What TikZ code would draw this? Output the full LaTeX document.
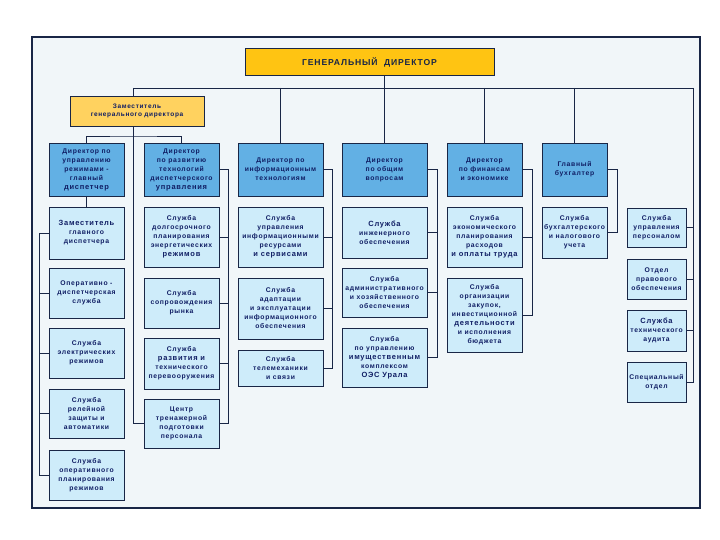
\documentclass[tikz,border=0pt]{standalone}
\usepackage{fontspec}
\setmainfont{Liberation Sans}
\newfontfamily\bxf[LetterSpace=10]{Liberation Sans}
\pgfdeclarelayer{framelayer}
\pgfdeclarelayer{lineslayer}
\pgfsetlayers{framelayer,lineslayer,main}
\definecolor{navy}{RGB}{25,38,70}
\definecolor{txt}{RGB}{16,30,100}
\definecolor{dirc}{RGB}{98,176,228}
\definecolor{svc}{RGB}{206,236,250}
\definecolor{gold}{RGB}{255,196,18}
\definecolor{goldl}{RGB}{255,210,95}
\definecolor{bgc}{RGB}{241,246,249}
\newcommand\bg[1]{{\fontsize{7.5}{9}\selectfont #1}}
\newcommand\bx[7]{\node[#1, minimum width={(#4-#3)*1pt}, minimum height={(#6-#5)*1pt}] (#2) at ({(#3+#4)/2},{(#5+#6)/2}) {#7};}
\tikzset{
  obox/.style={draw=navy, line width=0.8pt, inner sep=1pt, align=center, text=txt,
    font=\bxf\bfseries\fontsize{6.8}{9}\selectfont},
  dirbox/.style={obox, fill=dirc},
  svcbox/.style={obox, fill=svc},
  gdbox/.style={obox, fill=gold, line width=1pt, text=navy, font=\bxf\bfseries\fontsize{8.6}{10}\selectfont},
  depbox/.style={obox, fill=goldl, font=\bxf\bfseries\fontsize{6.5}{8}\selectfont},
  conn/.style={draw=navy, line width=0.7pt}
}
\begin{document}
\begin{tikzpicture}[x=1pt,y=-1pt]
\useasboundingbox (0,0) rectangle (720,540);
\begin{pgfonlayer}{framelayer}
\fill[white] (0,0) rectangle (720,540);
\draw[navy, line width=2.5pt, fill=bgc] (32,37) rectangle (700,508);
\end{pgfonlayer}

% top
\bx{gdbox}{gd}{245}{494}{49}{76}{ГЕНЕРАЛЬНЫЙ\ \ ДИРЕКТОР}
\bx{depbox}{dep}{70}{204}{96}{126}{Заместитель\\генерального директора}

% column 1
\bx{dirbox}{d1}{49}{124}{143}{196}{Директор по\\управлению\\режимами -\\главный\\\bg{диспетчер}}
\bx{svcbox}{s11}{49}{124}{207}{259}{\bg{Заместитель}\\главного\\диспетчера}
\bx{svcbox}{s12}{49}{124}{268}{318}{Оперативно -\\диспетчерская\\служба}
\bx{svcbox}{s13}{49}{124}{328}{378}{Служба\\электрических\\режимов}
\bx{svcbox}{s14}{49}{124}{389}{438}{Служба\\релейной\\защиты и\\автоматики}
\bx{svcbox}{s15}{49}{124}{450}{500}{Служба\\оперативного\\планирования\\режимов}

% column 2
\bx{dirbox}{d2}{144}{219}{143}{196}{Директор\\по развитию\\технологий\\диспетчерского\\\bg{управления}}
\bx{svcbox}{s21}{144}{219}{207}{267}{Служба\\долгосрочного\\планирования\\энергетических\\\bg{режимов}}
\bx{svcbox}{s22}{144}{219}{278}{328}{Служба\\сопровождения\\рынка}
\bx{svcbox}{s23}{144}{219}{338}{389}{Служба\\\bg{развития и}\\технического\\перевооружения}
\bx{svcbox}{s24}{144}{219}{399}{448}{Центр\\тренажерной\\подготовки\\персонала}

% column 3
\bx{dirbox}{d3}{238}{323}{143}{196}{Директор по\\информационным\\технологиям}
\bx{svcbox}{s31}{238}{323}{207}{267}{Служба\\управления\\информационными\\ресурсами\\\bg{и сервисами}}
\bx{svcbox}{s32}{238}{323}{278}{339}{Служба\\адаптации\\и эксплуатации\\информационного\\обеспечения}
\bx{svcbox}{s33}{238}{323}{350}{386}{Служба\\телемеханики\\и связи}

% column 4
\bx{dirbox}{d4}{342}{427}{143}{196}{Директор\\по общим\\вопросам}
\bx{svcbox}{s41}{342}{427}{207}{258}{\bg{Служба}\\инженерного\\обеспечения}
\bx{svcbox}{s42}{342}{427}{268}{317}{Служба\\административного\\и хозяйственного\\обеспечения}
\bx{svcbox}{s43}{342}{427}{328}{387}{Служба\\по управлению\\\bg{имущественным}\\комплексом\\\bg{ОЭС Урала}}

% column 5
\bx{dirbox}{d5}{447}{522}{143}{196}{Директор\\по финансам\\и экономике}
\bx{svcbox}{s51}{447}{522}{207}{267}{Служба\\экономического\\планирования\\расходов\\\bg{и оплаты труда}}
\bx{svcbox}{s52}{447}{522}{278}{352}{Служба\\организации\\закупок,\\инвестиционной\\\bg{деятельности}\\и исполнения\\бюджета}

% column 6
\bx{dirbox}{d6}{542}{607}{143}{196}{Главный\\бухгалтер}
\bx{svcbox}{s61}{542}{607}{207}{258}{Служба\\бухгалтерского\\и налогового\\учета}

% column 7
\bx{svcbox}{s71}{627}{686}{208}{247}{Служба\\управления\\персоналом}
\bx{svcbox}{s72}{627}{686}{259}{299}{Отдел\\правового\\обеспечения}
\bx{svcbox}{s73}{627}{686}{310}{351}{\bg{Служба}\\технического\\аудита}
\bx{svcbox}{s74}{627}{686}{362}{402}{Специальный\\отдел}

\begin{pgfonlayer}{lineslayer}
\coordinate (busL) at (133,88);
\coordinate (busR) at (693,88);
\coordinate (dj) at (133,136);
\coordinate (x1) at (39,0);
\coordinate (x2) at (228,0);
\coordinate (x3) at (332,0);
\coordinate (x4) at (437,0);
\coordinate (x5) at (532,0);
\coordinate (x6) at (617,0);
\draw[conn] (busL) -- (busR);
\draw[conn] (gd.south -| d4.north) -- (d4.north);
\foreach \n in {d3,d5,d6} \draw[conn] (\n.north |- busL) -- (\n.north);
\draw[conn] (busR) |- (s74.east);
\foreach \n in {s71,s72,s73} \draw[conn] (\n.east) -- (\n.east -| busR);
% deputy
\draw[conn] (busL) -- (dep.north -| busL);
\draw[conn] (dep.south -| busL) |- (s24.west);
\draw[conn] (d1.north) |- (dj) -| (d2.north);
% column 1
\draw[conn] (d1.south) -- (s11.north);
\draw[conn] (s11.west -| x1) -- (s15.west -| x1);
\foreach \n in {s11,s12,s13,s14,s15} \draw[conn] (\n.west) -- (\n.west -| x1);
% column 2
\draw[conn] (d2.east) -| (x2 |- s24.east) -- (s24.east);
\foreach \n in {s21,s22,s23} \draw[conn] (\n.east) -- (\n.east -| x2);
% column 3
\draw[conn] (d3.east) -| (x3 |- s33.east) -- (s33.east);
\foreach \n in {s31,s32} \draw[conn] (\n.east) -- (\n.east -| x3);
% column 4
\draw[conn] (d4.east) -| (x4 |- s43.east) -- (s43.east);
\foreach \n in {s41,s42} \draw[conn] (\n.east) -- (\n.east -| x4);
% column 5
\draw[conn] (d5.east) -| (x5 |- s52.east) -- (s52.east);
\draw[conn] (s51.east) -- (s51.east -| x5);
% column 6
\draw[conn] (d6.east) -| (x6 |- s61.east) -- (s61.east);
\end{pgfonlayer}
\end{tikzpicture}
\end{document}
